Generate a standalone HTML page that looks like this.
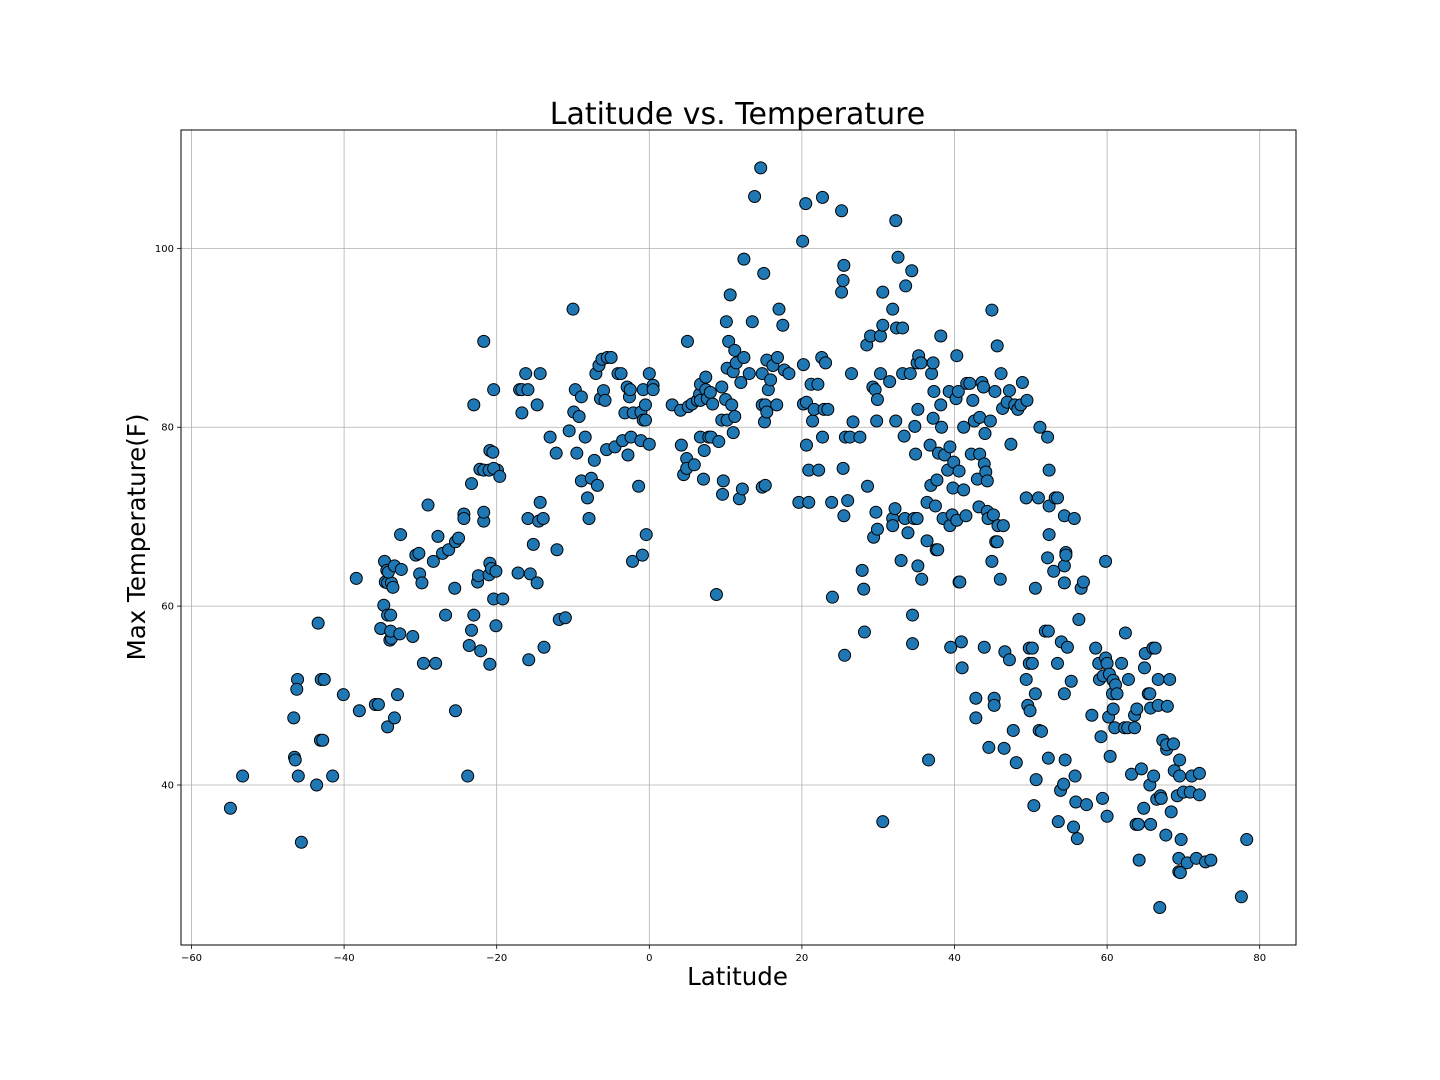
<!DOCTYPE html>
<html><head><meta charset="utf-8">
<style>
html,body{margin:0;padding:0;background:#fff;}
svg{display:block;font-family:"DejaVu Sans","Liberation Sans",sans-serif;}
</style></head>
<body>
<svg id="chart" width="1440" height="1080" viewBox="0 0 1440 1080" xmlns="http://www.w3.org/2000/svg">
<rect x="0" y="0" width="1440" height="1080" fill="#fff"/>
<g id="grid"></g>
<g id="points"></g>
<rect x="181" y="130" width="1115" height="815" fill="none" stroke="#000" stroke-width="1"/>
<g id="ticks"></g>
<text x="737.5" y="124" font-size="30" text-anchor="middle" fill="#000">Latitude vs. Temperature</text>
<text x="737.5" y="985" font-size="24.5" text-anchor="middle" fill="#000">Latitude</text>
<text x="145" y="537" font-size="24.5" text-anchor="middle" fill="#000" transform="rotate(-90 145 537)">Max Temperature(F)</text>
</svg>
<script>
const xTicks = [-60,-40,-20,0,20,40,60,80];
const yTicks = [40,60,80,100];
const lats = [-54.9,-53.3,-46.1,-46.2,-46.6,-46.5,-46.4,-46.0,-45.6,-43.4,-43.6,-43.1,-42.8,-43.0,-42.6,-41.5,-40.1,-38.4,-38.0,-35.9,-35.5,-35.2,-34.8,-34.7,-34.6,-34.3,-33.8,-34.4,-34.2,-34.3,-33.9,-34.3,-34.0,-33.8,-33.9,-33.6,-33.4,-33.4,-33.0,-32.7,-32.6,-32.5,-31.0,-30.6,-30.1,-29.8,-30.2,-29.6,-29.0,-28.3,-28.0,-27.7,-27.1,-26.7,-26.3,-25.4,-25.0,-25.5,-25.4,-24.3,-24.3,-23.8,-23.6,-23.3,-23.0,-23.3,-23.0,-22.5,-22.4,-22.2,-22.1,-21.7,-21.7,-21.7,-21.7,-21.0,-21.0,-20.9,-20.9,-20.7,-20.9,-20.5,-20.4,-20.4,-20.1,-20.1,-19.9,-20.4,-19.6,-19.2,-17.2,-17.0,-16.7,-16.7,-16.2,-15.9,-15.9,-15.8,-15.6,-15.2,-14.7,-14.7,-14.5,-14.3,-14.3,-13.9,-13.8,-13.0,-12.2,-12.1,-11.8,-11.0,-10.5,-10.0,-9.9,-9.7,-9.5,-9.2,-8.9,-8.9,-8.4,-8.1,-7.9,-7.6,-7.2,-7.0,-6.8,-6.6,-6.4,-6.0,-6.2,-5.8,-5.6,-5.5,-5.0,-4.5,-4.1,-3.7,-3.5,-3.2,-2.9,-2.6,-2.8,-2.5,-2.4,-2.2,-2.1,-1.4,-1.1,-1.1,-0.8,-0.9,-0.8,-0.5,-0.5,-0.4,0,0,0.5,0.5,3.0,4.1,4.2,4.5,4.9,4.9,5.0,5.1,5.6,5.9,6.3,6.6,6.7,6.7,6.7,7.1,7.2,7.4,7.4,7.6,7.8,8.1,8.0,8.3,8.8,9.1,9.5,9.5,9.6,9.7,10.0,10.1,10.2,10.2,10.4,10.6,10.8,11.0,11.0,11.2,11.2,11.4,11.8,12.0,12.2,12.4,12.4,13.1,13.5,13.8,14.6,14.8,15.2,15.0,14.8,14.8,15.2,15.1,15.4,15.4,15.6,15.9,16.2,16.7,16.8,17.0,17.5,17.7,18.3,19.6,20.1,20.2,20.2,20.5,20.6,20.6,20.9,20.9,21.2,21.4,21.6,22.2,22.1,22.6,22.7,22.7,22.9,23.4,23.1,23.9,24.0,25.2,25.2,25.4,25.5,25.4,25.5,25.6,25.7,26.3,26.0,26.5,26.7,27.6,27.9,28.1,28.2,28.5,28.6,29.0,29.3,29.6,29.4,29.7,29.8,29.9,29.9,30.3,30.3,30.6,30.6,30.6,31.5,31.9,31.9,31.9,32.2,32.3,32.3,32.4,32.6,33.0,33.2,33.2,33.4,33.5,33.6,33.9,34.2,34.4,34.5,34.5,34.7,35.1,34.8,34.9,35.1,35.3,35.6,35.2,35.2,35.7,36.4,36.4,36.6,36.8,36.9,37.0,37.2,37.2,37.3,37.5,37.6,37.7,37.8,37.9,38.2,38.2,38.3,38.5,38.7,39.1,39.3,39.4,39.4,39.5,39.7,39.8,39.9,40.2,40.5,40.3,40.3,40.6,40.7,40.6,40.9,41.0,41.2,41.2,41.5,41.6,42.0,42.2,42.4,42.6,42.8,42.8,43.0,43.2,43.3,43.3,43.6,43.8,43.9,43.9,44.0,44.1,44.3,44.3,44.4,44.5,44.7,44.9,44.9,45.1,45.2,45.2,45.3,45.4,45.6,45.6,45.7,46.0,46.1,46.3,46.4,46.5,46.6,46.9,47.2,47.2,47.4,47.7,47.9,48.3,48.7,48.1,48.9,49.4,49.4,49.5,49.6,49.8,50.2,49.8,50.2,49.9,50.4,50.6,50.6,50.7,51.0,51.1,51.2,51.4,51.9,52.3,52.2,52.2,52.3,52.4,52.4,52.4,53.0,53.2,53.5,53.5,53.6,53.9,54.0,54.3,54.4,54.4,54.4,54.4,54.5,54.6,54.6,54.8,55.3,55.6,55.7,55.8,55.9,56.1,56.3,56.6,56.9,57.3,58.0,58.5,58.9,59.0,59.2,59.4,59.5,59.8,59.8,60.0,60.0,60.2,60.3,60.4,60.7,60.8,60.8,61.0,61.1,61.3,61.9,62.3,62.7,62.4,62.8,63.2,63.6,63.6,63.8,64.1,63.9,64.2,64.5,64.8,64.9,65.0,65.4,65.6,65.6,65.7,65.7,66.0,66.1,66.3,66.5,66.7,66.7,66.9,67.0,67.1,67.3,67.7,67.8,67.8,67.9,68.2,68.4,68.7,68.8,69.2,69.4,69.4,69.6,69.5,69.5,69.7,70.0,70.5,70.9,71.1,71.7,72.1,72.1,72.9,73.6,77.6,78.3];
const temps = [37.4,41.0,51.8,50.7,47.5,43.1,42.8,41.0,33.6,58.1,40.0,45.0,45.0,51.8,51.8,41.0,50.1,63.1,48.3,49.0,49.0,57.5,60.1,65.0,62.7,62.6,62.6,64.0,63.8,59.0,59.0,46.5,56.2,56.4,57.2,62.1,64.5,47.5,50.1,56.9,68.0,64.1,56.6,65.7,63.6,62.6,65.9,53.6,71.3,65.0,53.6,67.8,65.9,59.0,66.3,67.2,67.6,62.0,48.3,70.3,69.8,41.0,55.6,73.7,82.5,57.3,59.0,62.7,63.4,75.3,55.0,89.6,69.5,70.5,75.2,75.2,63.5,53.5,64.8,64.2,77.4,77.2,84.2,60.8,63.9,57.8,75.2,75.4,74.5,60.8,63.7,84.2,84.2,81.6,86.0,84.2,69.8,54.0,63.6,66.9,82.5,62.6,69.5,86.0,71.6,69.8,55.4,78.9,77.1,66.3,58.5,58.7,79.6,93.2,81.7,84.2,77.1,81.2,83.4,74.0,78.9,72.1,69.8,74.3,76.3,86.0,73.5,86.9,83.2,84.1,87.6,83.0,77.5,87.8,87.8,77.8,86.0,86.0,78.5,81.6,84.5,83.4,76.9,84.2,78.9,65.0,81.6,73.4,81.7,78.5,80.8,65.7,84.2,82.5,80.8,68.0,86.0,78.1,84.7,84.2,82.5,81.9,78.0,74.7,76.5,75.4,89.6,82.3,82.6,75.8,83.0,83.7,83.0,78.9,84.8,74.2,77.4,84.2,85.6,83.2,78.9,78.9,83.9,82.6,61.3,78.4,84.5,80.8,72.5,74.0,83.1,91.8,86.6,80.8,89.6,94.8,82.5,86.2,79.4,88.6,81.2,87.2,72.0,85.0,73.1,87.8,98.8,86.0,91.8,105.8,109.0,73.3,73.5,97.2,86.0,82.5,82.5,80.6,87.5,81.7,84.2,85.3,86.9,82.5,87.8,93.2,91.4,86.4,86.0,71.6,100.8,82.6,87.0,105.0,82.8,78.0,71.6,75.2,84.8,80.7,82.0,75.2,84.8,87.8,105.7,78.9,82.0,82.0,87.2,71.6,61.0,104.2,95.1,96.4,98.1,75.4,70.1,54.5,78.9,78.9,71.8,86.0,80.6,78.9,64.0,61.9,57.1,89.2,73.4,90.2,84.5,84.2,67.7,70.5,80.7,68.6,83.1,86.0,90.2,95.1,91.4,35.9,85.1,93.2,69.8,69.0,70.9,103.1,80.7,91.1,99.0,65.1,91.1,86.0,79.0,69.8,95.8,68.2,86.0,97.5,55.8,59.0,69.8,69.8,80.1,77.0,87.2,88.0,87.2,82.0,64.5,63.0,71.6,67.3,42.8,78.0,73.5,86.0,87.2,81.0,84.0,71.2,66.3,74.1,66.3,77.1,82.5,90.2,80.0,69.8,76.9,75.2,84.0,77.8,69.0,55.4,70.2,73.2,76.1,83.2,84.0,88.0,69.6,62.7,62.7,75.1,56.0,53.1,80.0,73.0,70.1,84.9,84.9,77.0,83.0,80.7,49.7,47.5,74.2,71.1,77.0,81.1,85.0,84.5,55.4,75.9,79.3,75.0,74.0,70.6,69.8,44.2,80.7,93.1,65.0,70.2,49.7,48.9,84.0,67.2,67.2,89.1,69.0,63.0,86.0,82.1,69.0,44.1,54.9,82.8,84.1,54.0,78.1,46.1,82.5,82.0,82.5,42.5,85.0,51.8,72.1,83.0,48.9,55.3,55.3,53.6,53.6,48.3,37.7,62.0,50.2,40.6,72.1,46.1,80.0,46.0,57.2,57.2,78.9,65.4,43.0,68.0,71.2,75.2,63.9,72.1,72.1,53.6,35.9,39.4,56.0,40.1,62.6,50.2,70.1,64.5,42.8,66.0,65.7,55.4,51.6,35.3,69.8,41.0,38.1,34.0,58.5,62.0,62.7,37.8,47.8,55.3,53.6,51.8,45.4,38.5,52.2,65.0,54.2,53.6,36.5,47.6,52.4,43.2,50.2,48.5,51.7,46.4,51.2,50.2,53.6,46.4,46.4,57.0,51.8,41.2,46.4,47.8,35.6,35.6,48.5,31.6,41.8,37.4,53.1,54.7,50.2,50.2,40.0,48.6,35.6,55.3,41.0,55.3,38.4,51.8,48.9,26.3,38.8,38.5,45.0,34.4,44.0,44.5,48.8,51.8,37.0,44.6,41.6,38.8,31.8,30.3,30.2,42.8,41.0,33.9,39.2,31.3,39.2,41.0,31.8,38.9,41.3,31.4,31.6,27.5,33.9];

const NS = 'http://www.w3.org/2000/svg';
const X0 = 649.3, XS = 7.63;
const Y40 = 785, YS = 8.944;
function xScale(v){ return X0 + v * XS; }
function yScale(v){ return Y40 - (v - 40) * YS; }

const grid = document.getElementById('grid');
const ticks = document.getElementById('ticks');
const pts = document.getElementById('points');

xTicks.forEach(t => {
  const x = xScale(t);
  const g = document.createElementNS(NS,'line');
  g.setAttribute('x1',x); g.setAttribute('x2',x); g.setAttribute('y1',130); g.setAttribute('y2',945);
  g.setAttribute('stroke','#b0b0b0'); g.setAttribute('stroke-width','0.8');
  
  
  grid.appendChild(g);
  const tk = document.createElementNS(NS,'line');
  tk.setAttribute('x1',x); tk.setAttribute('x2',x); tk.setAttribute('y1',945); tk.setAttribute('y2',949);
  tk.setAttribute('stroke','#000'); tk.setAttribute('stroke-width','0.8');
  
  
  ticks.appendChild(tk);
  const lb = document.createElementNS(NS,'text');
  lb.setAttribute('x',x); lb.setAttribute('y',961); lb.setAttribute('font-size','10');
  lb.setAttribute('text-anchor','middle');
  lb.textContent = (t < 0 ? '\u2212' + Math.abs(t) : String(t));
  
  
  ticks.appendChild(lb);
});
yTicks.forEach(t => {
  const y = yScale(t);
  const g = document.createElementNS(NS,'line');
  g.setAttribute('x1',181); g.setAttribute('x2',1296); g.setAttribute('y1',y); g.setAttribute('y2',y);
  g.setAttribute('stroke','#b0b0b0'); g.setAttribute('stroke-width','0.8');
  
  
  grid.appendChild(g);
  const tk = document.createElementNS(NS,'line');
  tk.setAttribute('x1',177); tk.setAttribute('x2',181); tk.setAttribute('y1',y); tk.setAttribute('y2',y);
  tk.setAttribute('stroke','#000'); tk.setAttribute('stroke-width','0.8');
  
  
  ticks.appendChild(tk);
  const lb = document.createElementNS(NS,'text');
  lb.setAttribute('x',174); lb.setAttribute('y',y+3.5); lb.setAttribute('font-size','10');
  lb.setAttribute('text-anchor','end');
  lb.textContent = String(t);
  
  
  ticks.appendChild(lb);
});
for (let i = 0; i < lats.length; i++) {
  const c = document.createElementNS(NS,'circle');
  c.setAttribute('cx', xScale(lats[i]));
  c.setAttribute('cy', yScale(temps[i]));
  c.setAttribute('r', 6);
  c.setAttribute('fill', '#1f77b4');
  c.setAttribute('stroke', '#000');
  c.setAttribute('stroke-width', '1');
  
  
  pts.appendChild(c);
}
</script>
</body></html>
